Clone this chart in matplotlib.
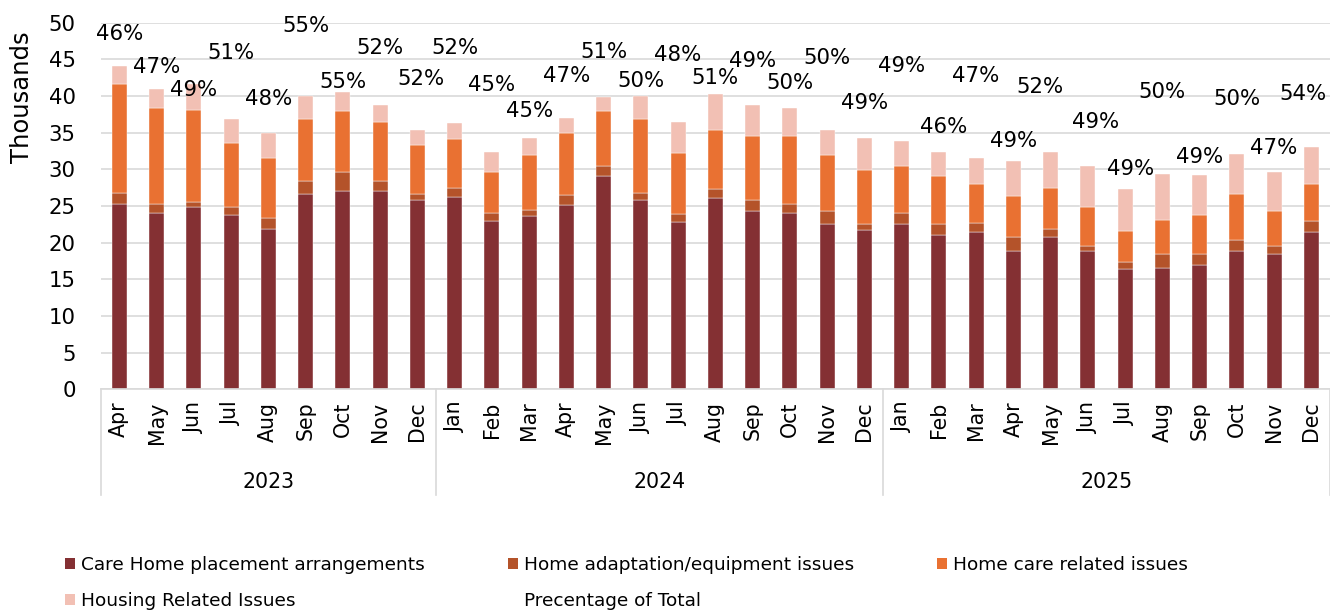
"""Stacked monthly delay reasons (thousands) with percentage-of-total labels."""

import matplotlib

matplotlib.use("Agg")
import matplotlib.pyplot as plt
from matplotlib.lines import Line2D
from matplotlib.patches import Patch
import numpy as np

# ---- Data (thousands) ---------------------------------------------------- #
months = ["Apr", "May", "Jun", "Jul", "Aug", "Sep", "Oct", "Nov", "Dec",
          "Jan", "Feb", "Mar", "Apr", "May", "Jun", "Jul", "Aug", "Sep", "Oct", "Nov", "Dec",
          "Jan", "Feb", "Mar", "Apr", "May", "Jun", "Jul", "Aug", "Sep", "Oct", "Nov", "Dec"]
years = ["2023", "2024", "2025"]
months_per_year = [9, 12, 12]

care_home = [25.2, 24.1, 24.8, 23.7, 21.8, 26.6, 27.1, 27.1, 25.8,
             26.2, 23.0, 23.6, 25.1, 29.1, 25.8, 22.8, 26.1, 24.3, 24.0, 22.5, 21.7,
             22.6, 21.1, 21.4, 18.9, 20.7, 18.8, 16.4, 16.6, 17.0, 18.9, 18.5, 21.5]
adaptation = [1.6, 1.1, 0.8, 1.2, 1.5, 1.8, 2.5, 1.3, 0.8,
              1.3, 1.0, 0.8, 1.4, 1.4, 1.0, 1.1, 1.2, 1.5, 1.3, 1.8, 0.9,
              1.5, 1.4, 1.3, 1.8, 1.2, 0.8, 1.0, 1.8, 1.5, 1.5, 1.0, 1.5]
home_care = [14.8, 13.2, 12.5, 8.7, 8.3, 8.4, 8.3, 8.1, 6.7,
             6.6, 5.6, 7.6, 8.5, 7.5, 10.0, 8.3, 8.1, 8.7, 9.2, 7.6, 7.3,
             6.3, 6.6, 5.3, 5.7, 5.6, 5.3, 4.2, 4.7, 5.3, 6.2, 4.8, 5.0]
housing = [2.5, 2.5, 3.5, 3.2, 3.4, 3.2, 2.6, 2.3, 2.0,
           2.2, 2.8, 2.2, 2.0, 1.9, 3.2, 4.3, 4.9, 4.2, 3.8, 3.4, 4.4,
           3.5, 3.2, 3.6, 4.7, 4.9, 5.5, 5.7, 6.2, 5.4, 5.5, 5.3, 5.0]

pct_of_total = [46, 47, 49, 51, 48, 55, 55, 52, 52,
                52, 45, 45, 47, 51, 50, 48, 51, 49, 50, 50, 49,
                49, 46, 47, 49, 52, 49, 49, 50, 49, 50, 47, 54]
# hidden series that carries the percentage labels (thousands)
pct_anchor = [48.4, 44.0, 40.8, 45.8, 39.6, 49.5, 41.9, 46.6, 42.3,
              46.6, 41.5, 38.0, 42.7, 46.0, 42.0, 45.6, 42.4, 44.8, 41.7, 45.2, 39.1,
              44.1, 35.8, 42.7, 33.8, 41.2, 36.4, 30.0, 40.5, 31.7, 39.6, 32.9, 40.3]

series_names = ["Care Home placement arrangements", "Home adaptation/equipment issues",
                "Home care related issues", "Housing Related Issues"]
COLORS = ["#843033", "#B4532A", "#E97132", "#F2C0B4"]
GRID = "#D9D9D9"
FONT = "DejaVu Sans"

# nudges (px) for labels that were dragged sideways in the original
LABEL_DX = {8: 4, 22: 5, 25: -11, 26: 8, 27: 5, 32: -8}

plt.rcParams["font.family"] = FONT

fig = plt.figure(figsize=(13.3, 6.12), dpi=100)
ax = fig.add_axes([0.0757, 0.364, 0.9243, 0.599])

x = np.arange(len(months))
bottom = np.zeros(len(months))
handles = []
for vals, name, col in zip([care_home, adaptation, home_care, housing], series_names, COLORS):
    ax.bar(x, vals, width=0.40, bottom=bottom, color=col, edgecolor="white",
           linewidth=0.3, zorder=2)
    bottom += np.array(vals)
    handles.append(Patch(facecolor=col, edgecolor="none", label=name))

for i, (p, h) in enumerate(zip(pct_of_total, pct_anchor)):
    ax.annotate(f"{p}%", (i, h), xytext=(LABEL_DX.get(i, 0) * 0.72, 0),
                textcoords="offset points", ha="center", va="center",
                fontsize=15.3, color="#000000", zorder=3)

ax.set_xlim(-0.5, len(months) - 0.5)
ax.set_ylim(0, 50)
ax.set_yticks(np.arange(0, 51, 5))
ax.tick_params(axis="y", length=0, pad=18, labelsize=15.3)
ax.set_xticks(x)
ax.set_xticklabels(months, rotation=90, fontsize=14.8)
ax.tick_params(axis="x", length=0, pad=9)
ax.grid(axis="y", color=GRID, lw=1.2, zorder=0)
for s in ["left", "right", "top"]:
    ax.spines[s].set_visible(False)
ax.spines["bottom"].set_color(GRID)
ax.spines["bottom"].set_linewidth(1.2)
ax.set_ylabel("Thousands", fontsize=17.5)
ax.yaxis.set_label_coords(-0.054, 0.797)

# year groups under the month labels
trans = ax.get_xaxis_transform()
edges = np.concatenate([[0], np.cumsum(months_per_year)]) - 0.5
for e in edges:
    ax.add_line(Line2D([e, e], [0, -0.288], transform=trans, color=GRID,
                       lw=1.2, clip_on=False))
for yr, a, b in zip(years, edges[:-1], edges[1:]):
    ax.text((a + b) / 2, -0.252, yr, transform=trans, ha="center", va="center",
            fontsize=14.8)

# legend, filled row by row
blank = Line2D([], [], linestyle="none", marker=None, label="Precentage of Total")
order = [handles[0], handles[3], handles[1], blank, handles[2]]
fig.legend(handles=order, labels=[h.get_label() for h in order], ncol=3,
           loc="upper left", bbox_to_anchor=(0.0485, 1 - 556 / 612), frameon=False,
           fontsize=13.3, handlelength=0.55, handleheight=0.55, handletextpad=0.33,
           labelspacing=0.97, columnspacing=4.5, borderpad=0, borderaxespad=0)

fig.savefig("out.png", dpi=100)
